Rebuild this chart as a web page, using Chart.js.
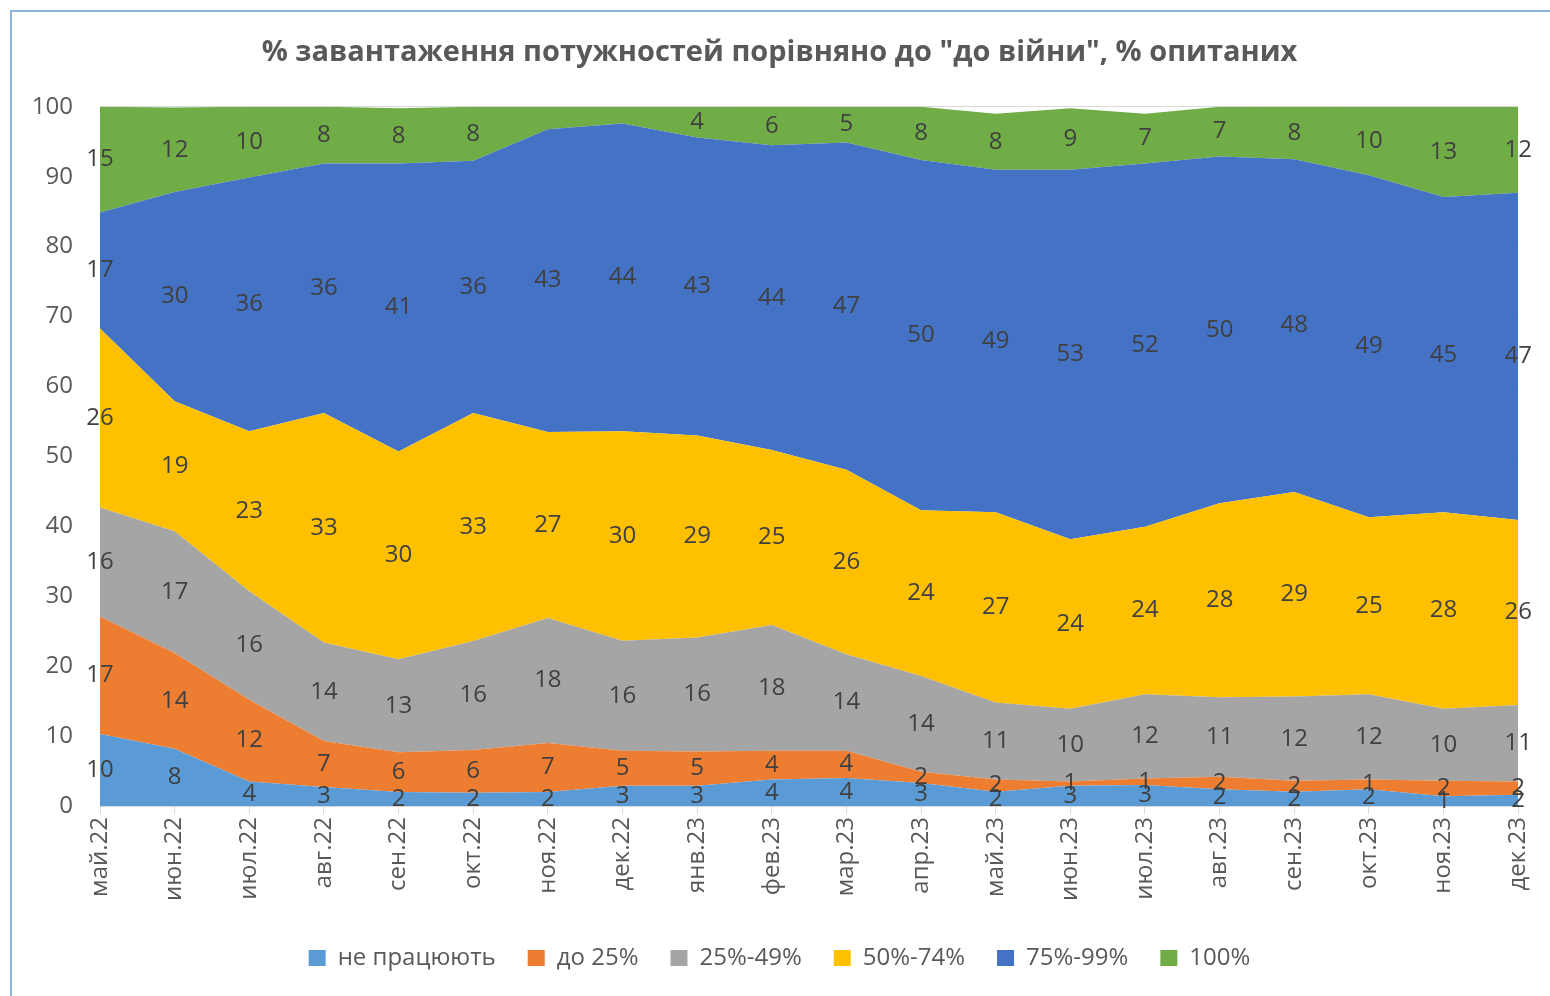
<!DOCTYPE html>
<html>
<head>
<meta charset="utf-8">
<script src="https://cdn.jsdelivr.net/npm/chart.js@4/dist/chart.umd.min.js"></script>
<style>
  body { margin: 0; background: #fff; }
  canvas { display: block; }
</style>
</head>
<body>
<canvas id="chart" width="1550" height="996"></canvas>
<script>
// months
const months = ['май.22', 'июн.22', 'июл.22', 'авг.22', 'сен.22', 'окт.22', 'ноя.22', 'дек.22', 'янв.23', 'фев.23',
  'мар.23', 'апр.23', 'май.23', 'июн.23', 'июл.23', 'авг.23', 'сен.23', 'окт.23', 'ноя.23', 'дек.23'];

// % of respondents per load group
const notWorking = [10.3, 8.2, 3.5, 2.7, 2.0, 1.9, 2.0, 2.9, 2.9, 3.8, 4.0, 3.3, 2.05, 2.9, 3.0, 2.4, 2.05, 2.4, 1.4, 1.6];
const upTo25 = [16.8, 13.7, 11.7, 6.6, 5.7, 6.1, 7.0, 5.0, 4.9, 4.1, 3.9, 1.6, 1.75, 0.6, 0.95, 1.8, 1.55, 1.4, 2.2, 1.9];
const from25to49 = [15.6, 17.4, 15.5, 14.1, 13.3, 15.6, 17.9, 15.75, 16.3, 18.0, 13.8, 13.7, 11.0, 10.4, 12.05, 11.35, 12.05, 12.2, 10.3, 10.95];
const from50to74 = [25.6, 18.6, 22.9, 32.8, 29.7, 32.6, 26.6, 29.95, 28.9, 25.0, 26.4, 23.7, 27.2, 24.25, 23.95, 27.75, 29.25, 25.3, 28.1, 26.45];
const from75to99 = [16.6, 29.9, 36.3, 35.7, 41.2, 36.1, 43.3, 44.0, 42.6, 43.6, 46.8, 50.1, 49.0, 52.85, 51.95, 49.6, 47.6, 48.9, 45.1, 46.8];
const full = [15.1, 12.1, 10.1, 8.1, 7.9, 7.7, 3.2, 2.4, 4.4, 5.6, 5.1, 7.6, 8.0, 8.8, 7.1, 7.1, 7.6, 9.8, 12.9, 12.3];

const yTicks = [0, 10, 20, 30, 40, 50, 60, 70, 80, 90, 100];

// labels that are not shown on the original chart: [series, month]
const hiddenLabels = [[5, 6], [5, 7]];

const seriesNames = ['не працюють', 'до 25%', '25%-49%', '50%-74%', '75%-99%', '100%'];
const seriesData = [notWorking, upTo25, from25to49, from50to74, from75to99, full];
const colors = ['#5B9BD5', '#ED7D31', '#A5A5A5', '#FFC000', '#4472C4', '#70AD47'];

const FONT = "'Open Sans', 'Noto Sans', sans-serif";
const TEXT = '#595959';

// draws the numbers in the middle of each band
const bandLabels = {
  id: 'bandLabels',
  afterDatasetsDraw(chart) {
    const ctx = chart.ctx;
    const yScale = chart.scales.y;
    ctx.save();
    ctx.font = '24px ' + FONT;
    ctx.fillStyle = '#404040';
    ctx.textAlign = 'center';
    ctx.textBaseline = 'middle';
    chart.data.datasets.forEach((ds, di) => {
      const meta = chart.getDatasetMeta(di);
      const prev = di > 0 ? chart.getDatasetMeta(di - 1) : null;
      meta.data.forEach((pt, i) => {
        if (hiddenLabels.some(h => h[0] === di && h[1] === i)) return;
        const base = prev ? prev.data[i].y : yScale.getPixelForValue(0);
        ctx.fillText(Math.round(ds.data[i]), pt.x, (pt.y + base) / 2);
      });
    });
    ctx.restore();
  }
};

// thin frame round the chart like the office chart border
const frame = {
  id: 'frame',
  beforeDraw(chart) {
    const ctx = chart.ctx;
    ctx.save();
    ctx.strokeStyle = '#8DB4E2';
    ctx.lineWidth = 2;
    ctx.beginPath();
    ctx.moveTo(11, chart.height);
    ctx.lineTo(11, 11);
    ctx.lineTo(chart.width, 11);
    ctx.stroke();
    ctx.restore();
  }
};

new Chart(document.getElementById('chart'), {
  type: 'line',
  data: {
    labels: months,
    datasets: seriesData.map((d, i) => ({
      label: seriesNames[i],
      data: d,
      backgroundColor: colors[i],
      borderColor: colors[i],
      borderWidth: 0,
      pointRadius: 0,
      fill: i === 0 ? 'origin' : '-1',
      tension: 0
    }))
  },
  options: {
    responsive: false,
    animation: false,
    devicePixelRatio: 1,
    layout: { padding: { left: 30, right: 21, top: 0, bottom: 16 } },
    plugins: {
      title: {
        display: true,
        text: '% завантаження потужностей порівняно до "до війни", % опитаних',
        color: TEXT,
        font: { family: FONT, size: 29, weight: 'bold' },
        padding: { top: 35, bottom: 37 }
      },
      legend: {
        position: 'bottom',
        labels: {
          color: TEXT,
          font: { family: FONT, size: 24 },
          boxWidth: 17,
          boxHeight: 16,
          padding: 32
        }
      },
      tooltip: { enabled: false }
    },
    scales: {
      x: {
        offset: false,
        grid: { display: true, drawOnChartArea: false, drawTicks: true, tickLength: 8, color: '#D9D9D9' },
        border: { color: '#D9D9D9' },
        ticks: {
          color: TEXT,
          font: { family: FONT, size: 24 },
          minRotation: 90,
          maxRotation: 90,
          padding: 3,
          autoSkip: false
        },
        afterFit(scale) { scale.height = 108; }
      },
      y: {
        stacked: true,
        min: 0,
        max: 100,
        afterBuildTicks(scale) { scale.ticks = yTicks.map(v => ({ value: v })); },
        grid: { color: '#D9D9D9', drawTicks: false },
        border: { display: false },
        ticks: {
          color: TEXT,
          font: { family: FONT, size: 24 },
          padding: 27
        },
        afterFit(scale) { scale.width = 70; }
      }
    }
  },
  plugins: [bandLabels, frame]
});
</script>
</body>
</html>
